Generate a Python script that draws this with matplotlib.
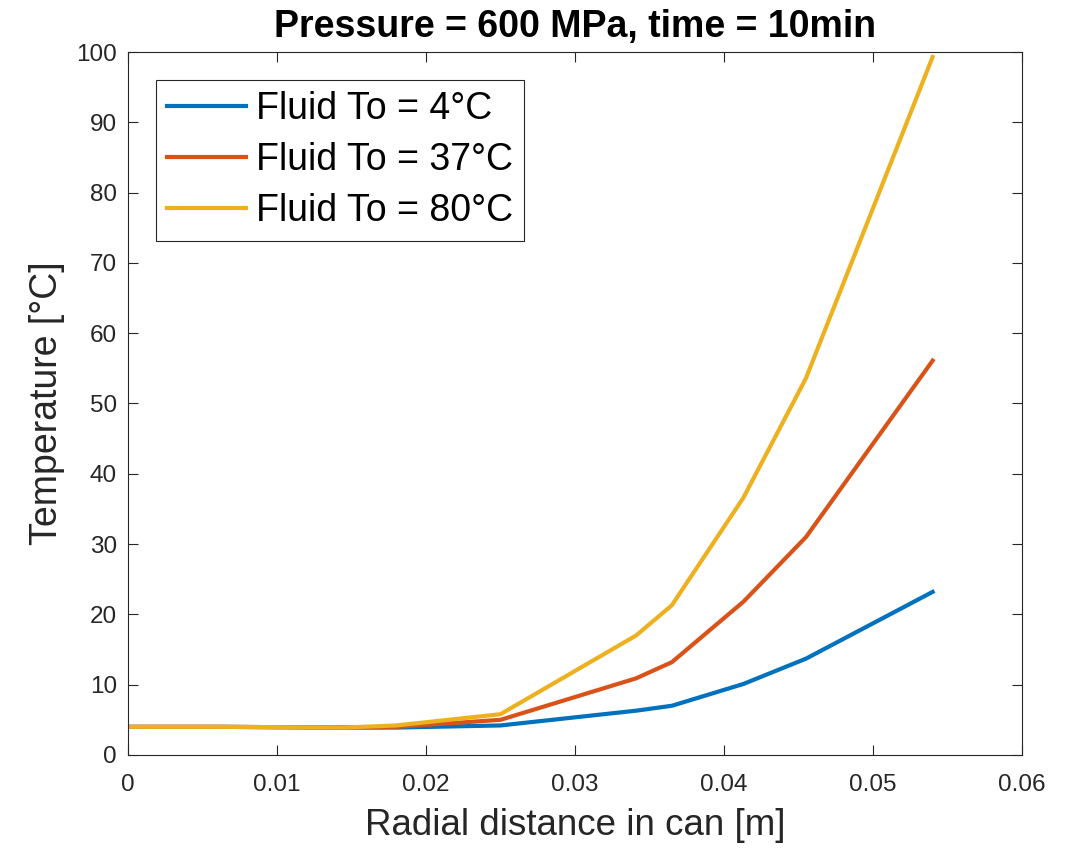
import numpy as np
import matplotlib
matplotlib.use('Agg')
from matplotlib import pyplot as plt

plt.rcParams["font.family"] = ["Liberation Sans", "DejaVu Sans"]

# radial positions [m]
radius = [0, 0.0063, 0.0145, 0.018, 0.025, 0.0341, 0.0365, 0.0413, 0.0455, 0.054]

# temperature profiles [deg C]
temp_4 = [4.0, 4.0, 3.9, 3.9, 4.2, 6.3, 7.0, 10.1, 13.7, 23.2]
temp_37 = [4.0, 4.0, 3.9, 4.0, 5.0, 10.9, 13.2, 21.8, 31.0, 56.1]
temp_80 = [4.0, 4.0, 3.9, 4.2, 5.8, 17.0, 21.3, 36.6, 53.6, 99.3]

labels = ['Fluid To = 4°C', 'Fluid To = 37°C', 'Fluid To = 80°C']
colors = ['#0072BD', '#D95319', '#EDB120']

fig = plt.figure(figsize=[10.73, 8.5], dpi=100)
ax = fig.add_axes([0.1193, 0.1118, 0.8332, 0.827])

for y, lab, c in zip([temp_4, temp_37, temp_80], labels, colors):
    ax.plot(radius, y, color=c, lw=3, label=lab)

ax.set_xlim(0, 0.06)
ax.set_ylim(0, 100)
ax.set_xticks(np.arange(0, 0.061, 0.01))
ax.set_xticklabels(['0', '0.01', '0.02', '0.03', '0.04', '0.05', '0.06'])
ax.set_yticks(np.arange(0, 101, 10))
ax.tick_params(direction='in', top=True, right=True, labelsize=17.5, length=7,
               color='#262626', labelcolor='#262626')
ax.tick_params(axis='x', pad=14)
ax.tick_params(axis='y', pad=8)
for s in ax.spines.values():
    s.set_color('#262626')
    s.set_linewidth(0.8)

ax.set_xlabel('Radial distance in can [m]', fontsize=26.5, color='#262626', labelpad=8)
ax.set_ylabel('Temperature [°C]', fontsize=27, color='#262626', labelpad=8)
ax.set_title('Pressure = 600 MPa, time = 10min', fontsize=27, fontweight='bold', pad=11)

leg = ax.legend(loc='upper left', fontsize=27, fancybox=False, framealpha=1,
                edgecolor='#262626', handlelength=2.1, borderaxespad=0.75,
                labelspacing=0.4, borderpad=0.3, handletextpad=0.25)
leg.get_frame().set_linewidth(0.8)

fig.patch.set_facecolor('white')
fig.savefig('out.png', dpi=100, format='png')
